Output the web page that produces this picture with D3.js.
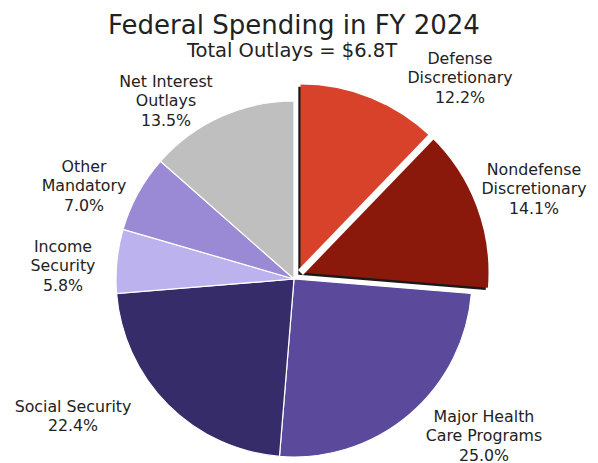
<!DOCTYPE html>
<html>
<head>
<meta charset="utf-8">
<script src="https://cdn.jsdelivr.net/npm/d3@7"></script>
<style>
	body { margin: 0; background: #ffffff; }
	text { font-family: "DejaVu Sans", Verdana, sans-serif; fill: #222222; }
</style>
</head>
<body>
<svg id="canvas" width="598" height="463"></svg>
<script>
var categories = ["Defense Discretionary", "Nondefense Discretionary", "Major Health Care Programs",
	"Social Security", "Income Security", "Other Mandatory", "Net Interest Outlays"];
var shares = [12.2, 14.1, 25.0, 22.4, 5.8, 7.0, 13.5];
var labelLines = [
	["Defense", "Discretionary", "12.2%"],
	["Nondefense", "Discretionary", "14.1%"],
	["Major Health", "Care Programs", "25.0%"],
	["Social Security", "22.4%"],
	["Income", "Security", "5.8%"],
	["Other", "Mandatory", "7.0%"],
	["Net Interest", "Outlays", "13.5%"]
];
var pulled = [true, true, false, false, false, false, false];
var colors = ["#d8422a", "#8a190c", "#5b4a9c", "#372c6a", "#bcb2ee", "#9a89d5", "#bfbfbf"];
var title = "Federal Spending in FY 2024";
var subtitle = "Total Outlays = $6.8T";

function draw(){
	var svg = d3.select("#canvas");
	var cx = 294, cy = 279;
	var radius = 178;
	var pullRadius = 188;
	var pullX = 6.5, pullY = -6.5;

	var pie = d3.pie().sort(null).value(function(d){ return d; });
	var arcs = pie(shares);

	var arc = d3.arc().innerRadius(0).outerRadius(radius);
	var bigArc = d3.arc().innerRadius(0).outerRadius(pullRadius);

	// normal slices
	var g = svg.append("g").attr("transform", "translate(" + cx + "," + cy + ")");
	g.selectAll("path.slice")
		.data(arcs.filter(function(d, i){ return !pulled[i]; }))
		.enter()
		.append("path")
		.attr("class", "slice")
		.attr("d", arc)
		.attr("fill", function(d){ return colors[d.index]; })
		.attr("stroke", "#ffffff")
		.attr("stroke-width", 1.2);

	// pulled-out group with a dark shadow
	var pulledArcs = arcs.filter(function(d, i){ return pulled[i]; });
	var groupStart = pulledArcs[0].startAngle;
	var groupEnd = pulledArcs[pulledArcs.length - 1].endAngle;
	var pg = svg.append("g").attr("transform", "translate(" + (cx + pullX) + "," + (cy + pullY) + ")");

	pg.append("path")
		.attr("d", bigArc({startAngle: groupStart, endAngle: groupEnd}))
		.attr("transform", "translate(-2.2,2.2)")
		.attr("fill", "#1a1a1a");

	pg.selectAll("path.pulled")
		.data(pulledArcs)
		.enter()
		.append("path")
		.attr("class", "pulled")
		.attr("d", bigArc)
		.attr("fill", function(d){ return colors[d.index]; });

	// white gap between the pulled slices
	for (var k = 1; k < pulledArcs.length; k++){
		var a = pulledArcs[k].startAngle;
		pg.append("line")
			.attr("x1", 0).attr("y1", 0)
			.attr("x2", Math.sin(a) * (pullRadius + 5))
			.attr("y2", -Math.cos(a) * (pullRadius + 5))
			.attr("stroke", "#ffffff")
			.attr("stroke-width", 7);
	}

	// labels, placed just outside each slice
	var labelPos = [
		[460, 64], [534, 175], [484, 422], [73, 412], [63, 252], [84, 172], [166, 87]
	];
	var labels = svg.selectAll("text.label")
		.data(labelLines)
		.enter()
		.append("text")
		.attr("class", "label")
		.attr("text-anchor", "middle")
		.attr("font-size", "15.8px")
		.attr("x", function(d, i){ return labelPos[i][0]; })
		.attr("y", function(d, i){ return labelPos[i][1]; });
	labels.selectAll("tspan")
		.data(function(d, i){ return d.map(function(t){ return {t: t, i: i}; }); })
		.enter()
		.append("tspan")
		.attr("x", function(d){ return labelPos[d.i][0]; })
		.attr("dy", function(d, j){ return j === 0 ? 0 : 19.4; })
		.text(function(d){ return d.t; });

	svg.append("text")
		.attr("x", 294).attr("y", 34)
		.attr("text-anchor", "middle")
		.attr("font-size", "26px")
		.text(title);
	svg.append("text")
		.attr("x", 292).attr("y", 57)
		.attr("text-anchor", "middle")
		.attr("font-size", "19.5px")
		.text(subtitle);
}

draw();
</script>
</body>
</html>
